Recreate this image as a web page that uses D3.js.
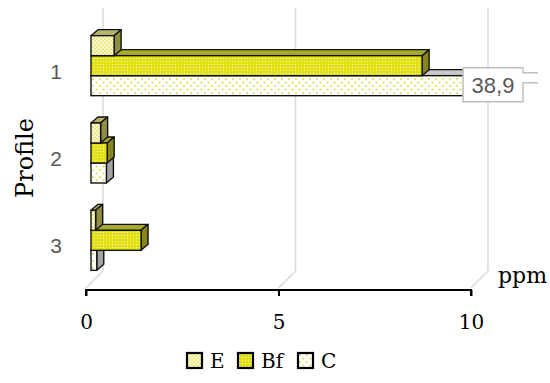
<!DOCTYPE html>
<html>
<head>
<meta charset="utf-8">
<script src="https://cdn.jsdelivr.net/npm/d3@7"></script>
<style>
  body { margin: 0; background: #fff; }
  svg { display: block; }
</style>
</head>
<body>
<div id="chart"></div>
<script>
var profiles = ["1", "2", "3"];
var seriesNames = ["E", "Bf", "C"];
var valuesE = [0.6, 0.25, 0.12];
var valuesBf = [8.6, 0.42, 1.3];
var valuesC = [38.9, 0.4, 0.15];
var xTicks = [0, 5, 10];
var bigLabel = "38,9";

var width = 550, height = 383;

var svg = d3.select("#chart").append("svg")
  .attr("width", width)
  .attr("height", height);

var x = d3.scaleLinear().domain([0, 10]).range([86, 471]).clamp(true);
var y = d3.scaleBand().domain(profiles).range([28, 290]);

// depth offsets of the 3d look
var barOx = 5, barOy = -6, depthX = 7, depthY = -6;
var floorX = 17, floorY = -17;
var barH = 20;

var defs = svg.append("defs");

function makePattern(id, size, base, dots, dotColor, r) {
  var p = defs.append("pattern")
    .attr("id", id)
    .attr("patternUnits", "userSpaceOnUse")
    .attr("width", size).attr("height", size);
  p.append("rect").attr("width", size).attr("height", size).attr("fill", base);
  dots.forEach(function(d) {
    p.append("circle").attr("cx", d[0]).attr("cy", d[1]).attr("r", r).attr("fill", dotColor);
  });
}
makePattern("patE", 4, "#eaea80", [[1, 1], [3, 3]], "#ffffff", 0.9);
makePattern("patBf", 3, "#e0e010", [[1.5, 1.5]], "#f5f588", 0.75);
makePattern("patC", 7, "#ffffff", [[2, 2], [5.5, 5.5]], "#d8d830", 0.9);

var styles = {
  E: {front: "url(#patE)", top: "#b4b46a", side: "#8f8f44"},
  Bf: {front: "url(#patBf)", top: "#a8a82a", side: "#86861c"},
  C: {front: "url(#patC)", top: "#c9c9c9", side: "#a4a4a4"}
};

// gridlines (back wall + floor)
var grid = svg.append("g").attr("class", "grid");
grid.selectAll("path")
  .data(xTicks)
  .enter().append("path")
  .attr("d", function(d) {
    var fx = x(d), fy = 288;
    return "M" + fx + "," + fy + "L" + (fx + floorX) + "," + (fy + floorY) + "L" + (fx + floorX) + ",8";
  })
  .attr("fill", "none")
  .attr("stroke", "#d9d9d9")
  .attr("stroke-width", 1.5);

// bar rows
var rows = [];
profiles.forEach(function(p, i) {
  rows.push({profile: p, name: "C", value: valuesC[i], slot: 2});
  rows.push({profile: p, name: "Bf", value: valuesBf[i], slot: 1});
  rows.push({profile: p, name: "E", value: valuesE[i], slot: 0});
});

var bars = svg.append("g").attr("class", "bars")
  .selectAll("g")
  .data(rows)
  .enter().append("g");

function barGeom(d) {
  var cy = y(d.profile) + y.bandwidth() / 2 + barOy;
  var y0 = cy - 1.5 * barH + d.slot * barH;
  var x0 = x(0) + barOx;
  var x1 = x(d.value) + barOx;
  return {x0: x0, x1: x1, y0: y0, y1: y0 + barH};
}

bars.append("path")
  .attr("d", function(d) {
    var g = barGeom(d);
    return "M" + g.x0 + "," + g.y0 + "L" + (g.x0 + depthX) + "," + (g.y0 + depthY) +
      "L" + (g.x1 + depthX) + "," + (g.y0 + depthY) + "L" + g.x1 + "," + g.y0 + "Z";
  })
  .attr("fill", function(d) { return styles[d.name].top; })
  .attr("stroke", "#111").attr("stroke-width", 1.4).attr("stroke-linejoin", "round");

bars.append("path")
  .attr("d", function(d) {
    var g = barGeom(d);
    return "M" + g.x1 + "," + g.y0 + "L" + (g.x1 + depthX) + "," + (g.y0 + depthY) +
      "L" + (g.x1 + depthX) + "," + (g.y1 + depthY) + "L" + g.x1 + "," + g.y1 + "Z";
  })
  .attr("fill", function(d) { return styles[d.name].side; })
  .attr("stroke", "#111").attr("stroke-width", 1.4).attr("stroke-linejoin", "round");

bars.append("rect")
  .attr("x", function(d) { return barGeom(d).x0; })
  .attr("y", function(d) { return barGeom(d).y0; })
  .attr("width", function(d) { var g = barGeom(d); return g.x1 - g.x0; })
  .attr("height", barH)
  .attr("fill", function(d) { return styles[d.name].front; })
  .attr("stroke", "#111").attr("stroke-width", 1.4);

// x axis
var xAxis = d3.axisBottom(x).tickValues(xTicks).tickSize(6).tickFormat(d3.format("d"));
var axisG = svg.append("g")
  .attr("transform", "translate(0,290)")
  .call(xAxis);
axisG.select(".domain").attr("stroke", "#000").attr("stroke-width", 2)
  .attr("d", "M" + x(0) + ",6V0H" + x(10) + "V6");
axisG.selectAll(".tick line").attr("stroke", "#000").attr("stroke-width", 2);
axisG.selectAll(".tick text")
  .attr("y", 25)
  .attr("font-family", "DejaVu Serif")
  .attr("font-size", 20)
  .attr("fill", "#000");

svg.append("text")
  .attr("x", 498).attr("y", 283)
  .attr("font-family", "DejaVu Serif")
  .attr("font-size", 22)
  .text("ppm");

// y category labels
svg.append("g").selectAll("text")
  .data(profiles)
  .enter().append("text")
  .attr("x", 56)
  .attr("y", function(d) { return y(d) + y.bandwidth() / 2 + 7; })
  .attr("text-anchor", "middle")
  .attr("font-family", "Liberation Sans")
  .attr("font-size", 21)
  .attr("fill", "#595959")
  .text(function(d) { return d; });

svg.append("text")
  .attr("transform", "translate(33,158) rotate(-90)")
  .attr("text-anchor", "middle")
  .attr("font-family", "DejaVu Serif")
  .attr("font-size", 24)
  .text("Profile");

// callout label for the clipped bar
var cRow = barGeom({profile: "1", value: 10, slot: 2});
var lx = 463, ly = cRow.y0 - 8, lw = 60, lh = 34;
svg.append("rect")
  .attr("x", lx).attr("y", ly).attr("width", lw).attr("height", lh)
  .attr("fill", "#fff");
svg.append("path")
  .attr("d", "M" + lx + "," + ly + "H" + (lx + lw) + "V" + (ly + 5) + "H" + (lx + lw + 15) +
    "M" + (lx + lw + 15) + "," + (ly + 15) + "H" + (lx + lw) + "V" + (ly + lh) + "H" + lx + "V" + ly)
  .attr("fill", "none")
  .attr("stroke", "#bfbfbf")
  .attr("stroke-width", 1.5);
svg.append("text")
  .attr("x", lx + lw / 2).attr("y", ly + 25)
  .attr("text-anchor", "middle")
  .attr("font-family", "Liberation Sans")
  .attr("font-size", 22)
  .attr("fill", "#595959")
  .text(bigLabel);

// legend
var legendX = [187, 238, 298];
var legend = svg.append("g").selectAll("g")
  .data(seriesNames)
  .enter().append("g")
  .attr("transform", function(d, i) { return "translate(" + legendX[i] + ",353)"; });
legend.append("rect")
  .attr("width", 15).attr("height", 15)
  .attr("fill", function(d) { return styles[d].front; })
  .attr("stroke", "#000").attr("stroke-width", 2.2);
legend.append("text")
  .attr("x", 23).attr("y", 15)
  .attr("font-family", "DejaVu Serif")
  .attr("font-size", 20)
  .text(function(d) { return d; });
</script>
</body>
</html>
